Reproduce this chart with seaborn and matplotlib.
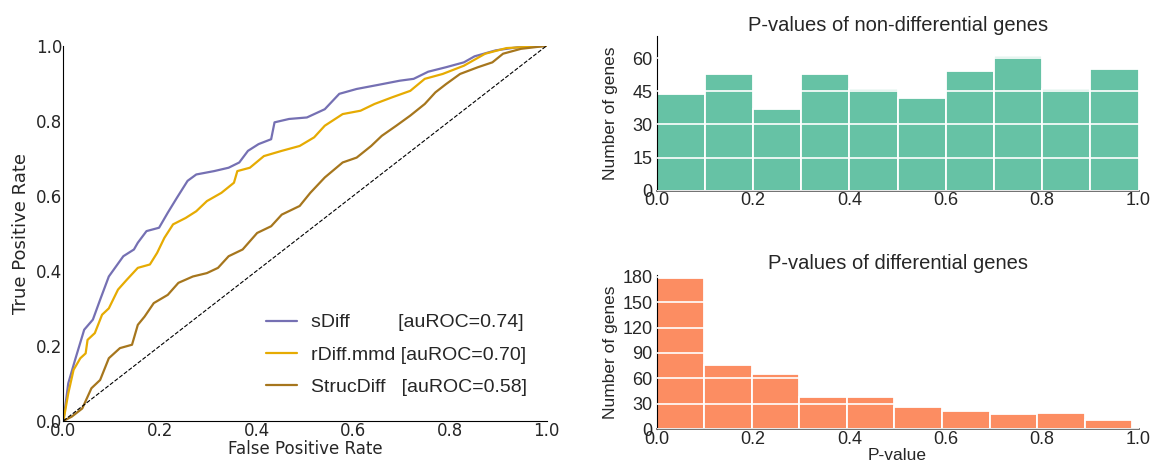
import numpy as np
import pandas as pd
import seaborn as sns
import matplotlib.pyplot as plt

# ROC curves (fpr, tpr)
sdiff_fpr = [0.0, 0.01, 0.024, 0.043, 0.061, 0.076, 0.094, 0.124, 0.146, 0.154, 0.172, 0.198,
             0.216, 0.235, 0.257, 0.275, 0.312, 0.342, 0.364, 0.382, 0.404, 0.430, 0.437, 0.467,
             0.504, 0.541, 0.571, 0.607, 0.652, 0.696, 0.725, 0.755, 0.792, 0.829, 0.851, 0.895,
             0.939, 1.0]
sdiff_tpr = [0.0, 0.10, 0.162, 0.243, 0.27, 0.323, 0.385, 0.439, 0.457, 0.475, 0.506, 0.515,
             0.555, 0.595, 0.64, 0.657, 0.666, 0.675, 0.689, 0.72, 0.738, 0.751, 0.796, 0.805,
             0.809, 0.831, 0.872, 0.885, 0.896, 0.907, 0.912, 0.931, 0.943, 0.956, 0.972, 0.988,
             0.996, 1.0]

rdiff_fpr = [0.0, 0.01, 0.021, 0.035, 0.046, 0.05, 0.065, 0.08, 0.094, 0.113, 0.131, 0.154,
             0.179, 0.194, 0.209, 0.227, 0.253, 0.275, 0.297, 0.327, 0.353, 0.36, 0.386, 0.415,
             0.452, 0.489, 0.519, 0.541, 0.578, 0.615, 0.644, 0.681, 0.718, 0.748, 0.785, 0.829,
             0.873, 0.917, 1.0]
rdiff_tpr = [0.0, 0.073, 0.136, 0.167, 0.18, 0.216, 0.234, 0.283, 0.30, 0.35, 0.376, 0.408,
             0.417, 0.448, 0.488, 0.524, 0.541, 0.559, 0.586, 0.608, 0.635, 0.666, 0.675, 0.706,
             0.72, 0.733, 0.756, 0.787, 0.818, 0.827, 0.845, 0.863, 0.880, 0.912, 0.925, 0.947,
             0.979, 0.994, 1.0]

struc_fpr = [0.0, 0.017, 0.039, 0.058, 0.076, 0.094, 0.117, 0.142, 0.154, 0.168, 0.187, 0.216,
             0.238, 0.268, 0.297, 0.32, 0.342, 0.371, 0.401, 0.430, 0.452, 0.489, 0.511, 0.541,
             0.578, 0.607, 0.637, 0.659, 0.689, 0.718, 0.748, 0.770, 0.792, 0.821, 0.858, 0.888,
             0.910, 0.947, 1.0]
struc_tpr = [0.0, 0.011, 0.033, 0.087, 0.109, 0.167, 0.194, 0.203, 0.256, 0.278, 0.314, 0.336,
             0.368, 0.385, 0.394, 0.408, 0.439, 0.457, 0.501, 0.519, 0.55, 0.573, 0.608, 0.649,
             0.689, 0.702, 0.733, 0.760, 0.787, 0.814, 0.845, 0.876, 0.898, 0.925, 0.943, 0.956,
             0.979, 0.992, 1.0]

labels = ["sDiff         [auROC=0.74]", "rDiff.mmd [auROC=0.70]", "StrucDiff   [auROC=0.58]"]
roc_colors = ["#7570b3", "#e6ab02", "#a6761d"]

# P-value histogram counts (10 bins)
nondiff_counts = [44, 53, 37, 53, 46, 42, 54, 61, 46, 55]
diff_counts = [178, 76, 65, 38, 38, 26, 22, 18, 19, 11]
nondiff_pmax = 1.0
diff_pmax = 0.987

sns.set_style("white")
plt.rcParams['font.family'] = ['DejaVu Sans']

fig = plt.figure(figsize=(11.53, 4.63), dpi=100)
ax_roc = fig.add_axes([0.055, 0.091, 0.419, 0.81])
ax_top = fig.add_axes([0.5695, 0.588, 0.418, 0.334])
ax_bot = fig.add_axes([0.5695, 0.073, 0.418, 0.333])

# ROC panel
for fpr, tpr, lab, col in zip([sdiff_fpr, rdiff_fpr, struc_fpr],
                              [sdiff_tpr, rdiff_tpr, struc_tpr], labels, roc_colors):
    df = pd.DataFrame({'fpr': fpr, 'tpr': tpr})
    sns.lineplot(data=df, x='fpr', y='tpr', sort=False, estimator=None, color=col,
                 linewidth=1.6, label=lab, ax=ax_roc)
ax_roc.plot([0, 1], [0, 1], color='black', linestyle='--', linewidth=0.8)
ax_roc.set_xlim(0, 1)
ax_roc.set_ylim(0, 1)
ax_roc.set_xlabel('False Positive Rate', fontsize=12, labelpad=0)
ax_roc.set_ylabel('True Positive Rate', fontsize=13, labelpad=4)
ax_roc.tick_params(labelsize=12, length=0, pad=1)
leg = ax_roc.legend(loc='lower right', frameon=False, prop={'family': 'Liberation Sans', 'size': 14},
                    handlelength=1.6, handletextpad=0.7, labelspacing=0.75,
                    bbox_to_anchor=(0.995, 0.02))

# histograms
hist_font = 'Liberation Sans'
for ax, counts, pmax, col, title, ylim, yticks in [
        (ax_top, nondiff_counts, nondiff_pmax, "#66c2a5", 'P-values of non-differential genes', 70, [0, 15, 30, 45, 60]),
        (ax_bot, diff_counts, diff_pmax, "#fc8d62", 'P-values of differential genes', 182, [0, 30, 60, 90, 120, 150, 180])]:
    edges = list(np.linspace(0, pmax, len(counts) + 1))
    hdf = pd.DataFrame({'p': [(a + b) / 2 for a, b in zip(edges[:-1], edges[1:])],
                        'n': counts})
    sns.histplot(data=hdf, x='p', weights='n', bins=edges, color=col, alpha=1,
                 edgecolor='white', linewidth=1.3, ax=ax)
    ax.set_xlim(0, 1)
    ax.set_ylim(0, ylim)
    ax.set_yticks(yticks)
    ax.set_xticks([0, 0.2, 0.4, 0.6, 0.8, 1.0])
    ax.set_xticklabels(['0.0', '0.2', '0.4', '0.6', '0.8', '1.0'])
    ax.yaxis.grid(True, color='white', linewidth=1.2)
    ax.set_axisbelow(False)
    ax.set_title(title, fontsize=14.5, family=hist_font, pad=4)
    ax.set_ylabel('Number of genes', fontsize=12.5, family=hist_font)
    ax.yaxis.set_label_coords(-0.08, 0.5)
    ax.set_xlabel('')
    ax.tick_params(length=0, labelsize=13)
    ax.tick_params(axis='x', pad=1)
    ax.tick_params(axis='y', pad=3)
    for lab in ax.get_xticklabels() + ax.get_yticklabels():
        lab.set_family(hist_font)
    ax.spines['bottom'].set_color('#666666')
    ax.spines['bottom'].set_linewidth(1.3)
    ax.spines['left'].set_color('black')

ax_bot.set_xlabel('P-value', fontsize=12.5, family=hist_font, labelpad=0)

for ax in [ax_roc, ax_top, ax_bot]:
    sns.despine(ax=ax)
ax_roc.spines['left'].set_color('black')
ax_roc.spines['bottom'].set_color('black')

fig.savefig('out.png', dpi=100)
